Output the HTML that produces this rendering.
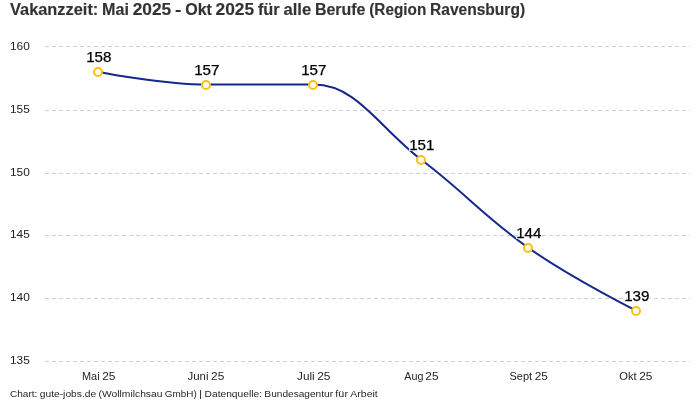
<!DOCTYPE html>
<html lang="de"><head><meta charset="utf-8"><title>Vakanzzeit: Mai 2025 - Okt 2025 für alle Berufe (Region Ravensburg)</title>
<style>
html,body{margin:0;padding:0;background:#fff}
body{width:700px;height:400px;overflow:hidden;position:relative;font-family:"Liberation Sans",sans-serif}
svg{position:absolute;left:0;top:0;display:block}
text{font-family:"Liberation Sans",sans-serif}
.title{font-weight:bold;font-size:16px;fill:#333;stroke:#333;stroke-width:0.15px;}
.tick{font-size:11px;fill:#222;}
.xl{font-size:11px;fill:#262626;}
.foot{font-size:9.75px;fill:#262626;}
.val{position:absolute;white-space:nowrap;line-height:1;width:60px;margin-left:-30px;text-align:center;font-size:14px;color:#000;-webkit-text-stroke:0.25px #000;text-shadow:1px 0 #fff,-1px 0 #fff,0 1px #fff,0 -1px #fff,1px 1px #fff,-1px -1px #fff,1px -1px #fff,-1px 1px #fff}
</style></head><body>
<svg width="700" height="400" viewBox="0 0 700 400">
<rect width="700" height="400" fill="#fff"/>
<g stroke="#d0d0d0" stroke-width="1" stroke-dasharray="4 3" fill="none" shape-rendering="crispEdges">
<line x1="45" x2="690" y1="46.5" y2="46.5"/>
<line x1="45" x2="690" y1="110.5" y2="110.5"/>
<line x1="45" x2="690" y1="173.5" y2="173.5"/>
<line x1="45" x2="690" y1="235.5" y2="235.5"/>
<line x1="45" x2="690" y1="298.5" y2="298.5"/>
<line x1="45" x2="690" y1="361.5" y2="361.5"/>
</g>
<path d="M98.75 72.05C98.75 72.05 163.55 84.62 206.75 84.62C249.55 84.62 270.95 84.62 313.75 84.62C356.95 84.62 378.55 127.22 421.75 160.07C464.55 192.61 485.95 218.06 528.75 248.1C571.95 278.42 636.75 310.97 636.75 310.97" fill="none" stroke="#15288c" stroke-width="2" stroke-linecap="round" stroke-linejoin="round"/>
<g fill="#fff" stroke="#fdc010" stroke-width="2">
<circle cx="98" cy="72" r="4"/>
<circle cx="206" cy="85" r="4"/>
<circle cx="313" cy="85" r="4"/>
<circle cx="421" cy="160" r="4"/>
<circle cx="528" cy="248" r="4"/>
<circle cx="636" cy="311" r="4"/>
</g>
<text class="title" y="15"><tspan x="10" textLength="88.29" lengthAdjust="spacingAndGlyphs">Vakanzzeit:</tspan> <tspan x="102.04" textLength="26.85" lengthAdjust="spacingAndGlyphs">Mai</tspan> <tspan x="132.67" textLength="38.5" lengthAdjust="spacingAndGlyphs">2025</tspan> <tspan x="174.92" textLength="6.48" lengthAdjust="spacingAndGlyphs">-</tspan> <tspan x="185.18" textLength="26.69" lengthAdjust="spacingAndGlyphs">Okt</tspan> <tspan x="215.63" textLength="38.5" lengthAdjust="spacingAndGlyphs">2025</tspan> <tspan x="257.9" textLength="21.82" lengthAdjust="spacingAndGlyphs">für</tspan> <tspan x="283.5" textLength="27.73" lengthAdjust="spacingAndGlyphs">alle</tspan> <tspan x="315" textLength="50.49" lengthAdjust="spacingAndGlyphs">Berufe</tspan> <tspan x="369.25" textLength="57.05" lengthAdjust="spacingAndGlyphs">(Region</tspan> <tspan x="430.06" textLength="95.03" lengthAdjust="spacingAndGlyphs">Ravensburg)</tspan></text>
<text class="tick" y="50"><tspan x="10" textLength="19.81" lengthAdjust="spacingAndGlyphs">160</tspan></text>
<text class="tick" y="113"><tspan x="10" textLength="19.81" lengthAdjust="spacingAndGlyphs">155</tspan></text>
<text class="tick" y="176"><tspan x="10" textLength="19.81" lengthAdjust="spacingAndGlyphs">150</tspan></text>
<text class="tick" y="238"><tspan x="10" textLength="19.81" lengthAdjust="spacingAndGlyphs">145</tspan></text>
<text class="tick" y="301"><tspan x="10" textLength="19.81" lengthAdjust="spacingAndGlyphs">140</tspan></text>
<text class="tick" y="364"><tspan x="10" textLength="19.81" lengthAdjust="spacingAndGlyphs">135</tspan></text>
<text class="xl" y="380"><tspan x="82.06" textLength="17.56" lengthAdjust="spacingAndGlyphs">Mai</tspan> <tspan x="102.2" textLength="13.22" lengthAdjust="spacingAndGlyphs">25</tspan></text>
<text class="xl" y="380"><tspan x="187.62" textLength="20.86" lengthAdjust="spacingAndGlyphs">Juni</tspan> <tspan x="211.06" textLength="13.22" lengthAdjust="spacingAndGlyphs">25</tspan></text>
<text class="xl" y="380"><tspan x="297.05" textLength="17.61" lengthAdjust="spacingAndGlyphs">Juli</tspan> <tspan x="317.23" textLength="13.22" lengthAdjust="spacingAndGlyphs">25</tspan></text>
<text class="xl" y="380"><tspan x="404.3" textLength="19.11" lengthAdjust="spacingAndGlyphs">Aug</tspan> <tspan x="425.38" textLength="13.22" lengthAdjust="spacingAndGlyphs">25</tspan></text>
<text class="xl" y="380"><tspan x="509.55" textLength="22.61" lengthAdjust="spacingAndGlyphs">Sept</tspan> <tspan x="534.73" textLength="13.22" lengthAdjust="spacingAndGlyphs">25</tspan></text>
<text class="xl" y="380"><tspan x="619.27" textLength="17.34" lengthAdjust="spacingAndGlyphs">Okt</tspan> <tspan x="639.19" textLength="13.22" lengthAdjust="spacingAndGlyphs">25</tspan></text>
<text class="foot" y="397"><tspan x="10" textLength="27.38" lengthAdjust="spacingAndGlyphs">Chart:</tspan> <tspan x="39.72" textLength="56.52" lengthAdjust="spacingAndGlyphs">gute-jobs.de</tspan> <tspan x="98.58" textLength="63.88" lengthAdjust="spacingAndGlyphs">(Wollmilchsau</tspan> <tspan x="164.8" textLength="31.91" lengthAdjust="spacingAndGlyphs">GmbH)</tspan> <tspan x="199.05" textLength="3.16" lengthAdjust="spacingAndGlyphs">|</tspan> <tspan x="204.55" textLength="57.48" lengthAdjust="spacingAndGlyphs">Datenquelle:</tspan> <tspan x="264.38" textLength="68.66" lengthAdjust="spacingAndGlyphs">Bundesagentur</tspan> <tspan x="335.38" textLength="12.61" lengthAdjust="spacingAndGlyphs">für</tspan> <tspan x="350.33" textLength="27.39" lengthAdjust="spacingAndGlyphs">Arbeit</tspan></text>
</svg>
<div class="val" style="left:98px;top:50px;transform:translate(0.75px,0.05px) scaleX(1.08)">158</div>
<div class="val" style="left:206px;top:62px;transform:translate(0.75px,0.62px) scaleX(1.08)">157</div>
<div class="val" style="left:313px;top:62px;transform:translate(0.75px,0.62px) scaleX(1.08)">157</div>
<div class="val" style="left:421px;top:138px;transform:translate(0.75px,0.07px) scaleX(1.08)">151</div>
<div class="val" style="left:528px;top:226px;transform:translate(0.75px,0.1px) scaleX(1.08)">144</div>
<div class="val" style="left:636px;top:288px;transform:translate(0.75px,0.57px) scaleX(1.08)">139</div>
</body></html>
